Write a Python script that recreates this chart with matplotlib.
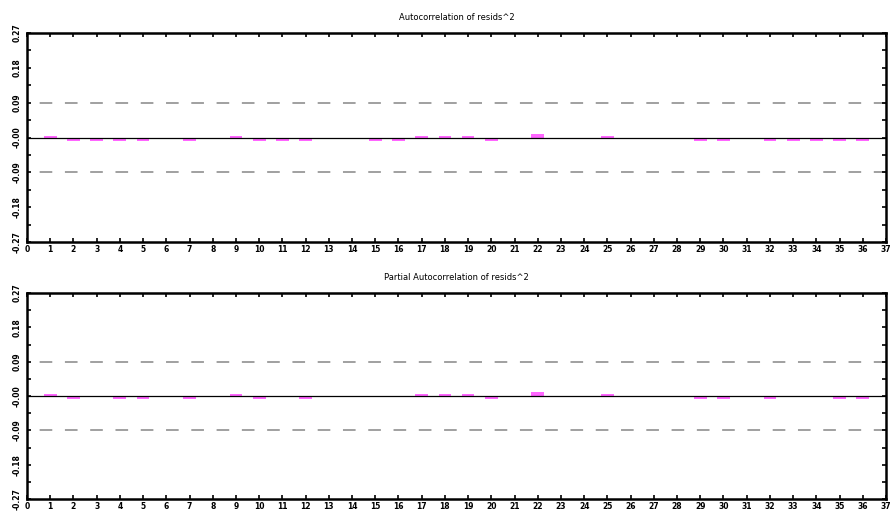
import numpy as np
import matplotlib
matplotlib.use("Agg")
import matplotlib.pyplot as plt

# lags and correlation values
lags = list(range(1, 37))
acf_vals = [0.005, -0.008, -0.008, -0.008, -0.008, 0.0, -0.008, 0.0, 0.005, -0.008,
            -0.008, -0.008, 0.0, 0.0, -0.008, -0.008, 0.005, 0.005, 0.005, -0.008,
            0.0, 0.01, 0.0, 0.0, 0.005, 0.0, 0.0, 0.0, -0.008, -0.008,
            0.0, -0.008, -0.008, -0.008, -0.008, -0.008]
pacf_vals = [0.005, -0.007, 0.0, -0.007, -0.007, 0.0, -0.007, 0.0, 0.005, -0.007,
             0.0, -0.007, 0.0, 0.0, 0.0, 0.0, 0.005, 0.005, 0.005, -0.007,
             0.0, 0.01, 0.0, 0.0, 0.005, 0.0, 0.0, 0.0, -0.007, -0.007,
             0.0, -0.007, 0.0, 0.0, -0.007, -0.007]
conf_band = 0.09
ytick_vals = [-0.27, -0.18, -0.09, 0.0, 0.09, 0.18, 0.27]
ytick_labels = ["-0.27", "-0.18", "-0.09", "-0.00", "0.09", "0.18", "0.27"]
xtick_vals = list(range(0, 38))
titles = ["Autocorrelation of resids^2", "Partial Autocorrelation of resids^2"]

W, H = 891, 516
fig = plt.figure(figsize=(W / 100, H / 100), dpi=100)

def px_axes(left, top, right, bottom):
    return fig.add_axes([left / W, (H - bottom) / H, (right - left) / W, (bottom - top) / H])

boxes = [(27, 33, 886, 242), (27, 293, 886, 499)]

for (box, vals, title) in zip(boxes, [acf_vals, pacf_vals], titles):
    ax = px_axes(*box)
    ax.set_xlim(0, 37)
    ax.set_ylim(-0.27, 0.27)
    ax.bar(lags, vals, width=0.55, color="#ff66ff", zorder=2)
    ax.axhline(0, color="black", lw=0.9, zorder=3)
    for y in (conf_band, -conf_band):
        ax.axhline(y, color="#999999", lw=1.3, linestyle=(7, (7, 7)), zorder=1)

    ax.set_yticks(ytick_vals)
    ax.set_yticklabels(ytick_labels, rotation=90, va="center")
    ax.set_yticks(np.arange(-0.27, 0.28, 0.045), minor=True)
    ax.set_xticks(xtick_vals)
    ax.set_xticklabels([str(v) for v in xtick_vals])
    ax.tick_params(which="both", direction="in", length=3, width=1.2,
                   top=True, right=True, labelsize=5.5, colors="black")
    ax.tick_params(axis="y", pad=4)
    ax.tick_params(axis="x", pad=2)
    for lab in ax.get_xticklabels() + ax.get_yticklabels():
        lab.set_fontweight("bold")
    for sp in ax.spines.values():
        sp.set_linewidth(1.8)
        sp.set_color("black")
    ax.set_title(title, fontsize=6, pad=9)

fig.savefig("out.png", dpi=100)
